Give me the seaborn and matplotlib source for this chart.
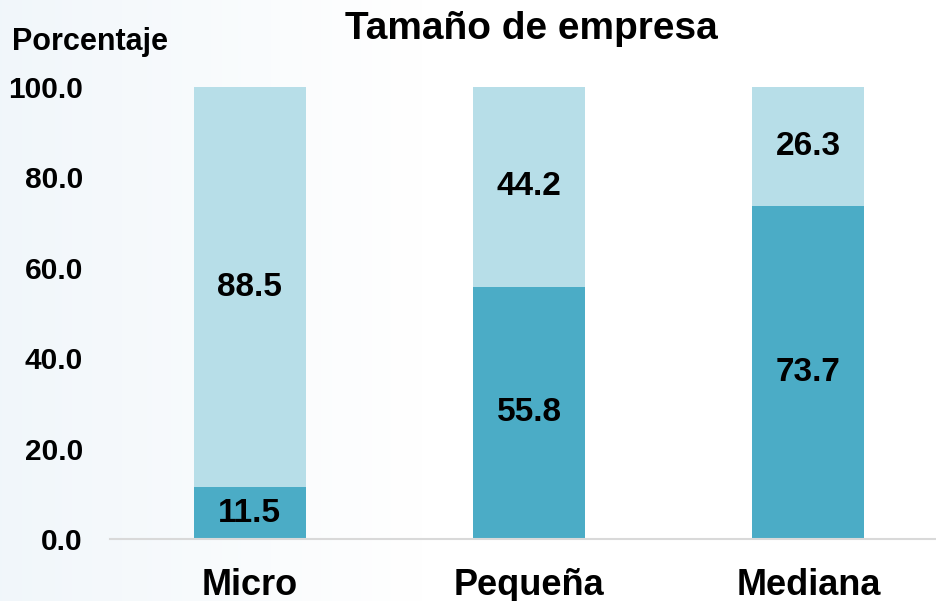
import numpy as np
import pandas as pd
import matplotlib
matplotlib.use("Agg")
import matplotlib.pyplot as plt
import seaborn as sns

categorias = ["Micro", "Pequeña", "Mediana"]
serie_inferior = [11.5, 55.8, 73.7]
serie_superior = [88.5, 44.2, 26.3]
ticks_y = [0, 20, 40, 60, 80, 100]

sns.set_theme(style="white")
plt.rcParams['font.family'] = ['Liberation Sans', 'DejaVu Sans']
plt.rcParams['font.weight'] = 'bold'
plt.rcParams['text.color'] = 'black'
plt.rcParams['xtick.color'] = 'black'
plt.rcParams['ytick.color'] = 'black'

W, H = 936, 601
fig = plt.figure(figsize=(W / 100, H / 100), dpi=100)
fig.patch.set_facecolor("white")

# subtle background gradient (decorative)
bg = fig.add_axes([0, 0, 1, 1], zorder=-10)
xs = np.linspace(0, 1, 400)
t = np.clip(1 - xs / 0.45, 0, 1)
base = np.array([1.0, 1.0, 1.0])
tint = np.array([0.945, 0.967, 0.982])
grad = (base[None, :] * (1 - t[:, None]) + tint[None, :] * t[:, None])[None, :, :]
bg.imshow(grad, aspect="auto", extent=[0, 1, 0, 1])
bg.axis("off")

left = 110 / W
right = 1.0
bottom = (H - 539) / H
top = (H - 87) / H
ax = fig.add_axes([left, bottom, right - left, top - bottom])
ax.set_facecolor("none")

df = pd.DataFrame({"cat": categorias, "inf": serie_inferior, "sup": serie_superior})
df["total"] = df["inf"] + df["sup"]

c_dark = "#4BACC6"
c_light = "#B7DEE8"

sns.barplot(data=df, x="cat", y="total", color=c_light, width=0.4, ax=ax,
            saturation=1, edgecolor="none")
sns.barplot(data=df, x="cat", y="inf", color=c_dark, width=0.4, ax=ax,
            saturation=1, edgecolor="none")

for i, (a, b) in enumerate(zip(serie_inferior, serie_superior)):
    ax.text(i, a / 2, f"{a:.1f}", ha="center", va="center", fontsize=24,
            fontweight="bold", color="black")
    ax.text(i, a + b / 2, f"{b:.1f}", ha="center", va="center", fontsize=24,
            fontweight="bold", color="black")

ax.set_ylim(0, 100)
ax.set_xlim(-0.5, 2.5 - 12 / 279)
ax.set_yticks(ticks_y)
ax.set_yticklabels([f"{v:.1f}" for v in ticks_y], fontsize=21.5, fontweight="bold")
ax.set_xticks(range(len(categorias)))
ax.set_xticklabels(categorias, fontsize=26, fontweight="bold")
ax.tick_params(axis="y", length=0, pad=19.5)
ax.tick_params(axis="x", length=0, pad=21)
ax.set_xlabel("")
ax.set_ylabel("")
for s in ["top", "right", "left"]:
    ax.spines[s].set_visible(False)
ax.spines["bottom"].set_color("#D9D9D9")
ax.spines["bottom"].set_linewidth(1.5)
ax.grid(False)

fig.text(531 / W, 1 - 29 / H, "Tamaño de empresa", ha="center", va="center",
         fontsize=28, fontweight="bold")
fig.text(12 / W, 1 - 42 / H, "Porcentaje", ha="left", va="center",
         fontsize=22, fontweight="bold")

fig.savefig("out.png", dpi=100)
